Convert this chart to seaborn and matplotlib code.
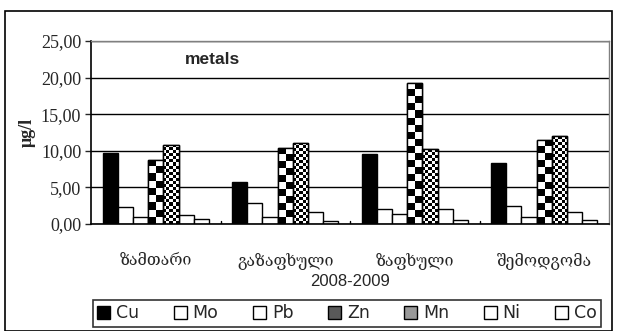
import matplotlib
matplotlib.use("Agg")
import matplotlib.pyplot as plt
import seaborn as sns
import numpy as np
import pandas as pd
from matplotlib.patches import Rectangle

seasons = ["ზამთარი", "გაზაფხული", "ზაფხული", "შემოდგომა"]
metals = ["Cu", "Mo", "Pb", "Zn", "Mn", "Ni", "Co"]

cu = [9.7, 5.7, 9.5, 8.4]
mo = [2.3, 2.9, 2.1, 2.4]
pb = [1.0, 0.9, 1.3, 1.0]
zn = [8.8, 10.4, 19.3, 11.5]
mn = [10.8, 11.1, 10.2, 12.0]
ni = [1.2, 1.7, 2.0, 1.7]
co = [0.7, 0.4, 0.6, 0.6]

yticks = [0, 5, 10, 15, 20, 25]

values = {"Cu": cu, "Mo": mo, "Pb": pb, "Zn": zn, "Mn": mn, "Ni": ni, "Co": co}
rows = []
for m in metals:
    for s, v in zip(seasons, values[m]):
        rows.append({"season": s, "metal": m, "value": v})
df = pd.DataFrame(rows)

sns.set_style("white")
plt.rcParams["font.family"] = ["Liberation Sans", "DejaVu Sans"]

fig = plt.figure(figsize=(6.17, 3.31), dpi=100)
ax = fig.add_axes([91 / 617, 1 - 224 / 331, (609 - 91) / 617, (224 - 41) / 331])

face = {"Cu": "black", "Mo": "white", "Pb": "white", "Zn": "0.35",
        "Mn": "0.6", "Ni": "white", "Co": "white"}

sns.barplot(
    data=df,
    x="season",
    y="value",
    hue="metal",
    hue_order=metals,
    order=seasons,
    palette=face,
    edgecolor="black",
    linewidth=1.0,
    width=0.82,
    legend=True,
    ax=ax
)

ax.set_ylim(0, 25)
ax.set_xlim(-0.5, 3.5)
ax.set_yticks(yticks)
ax.set_yticklabels([f"{t:.2f}".replace(".", ",") for t in yticks],
                   family="Liberation Serif", fontsize=13)
ax.set_xticklabels(seasons, family="DejaVu Serif", fontsize=11.5)
ax.tick_params(axis="x", pad=20, length=0)
ax.tick_params(axis="y", length=4, left=True, width=1, pad=3)
ax.yaxis.grid(True, color="black", linewidth=1.0)
ax.set_axisbelow(True)

for side in ["left", "bottom"]:
    ax.spines[side].set_color("black")
    ax.spines[side].set_linewidth(1.2)
for side in ["top", "right"]:
    ax.spines[side].set_color("0.5")
    ax.spines[side].set_linewidth(1.0)

# small separators between categories on the x axis
for x in [0.5, 1.5, 2.5]:
    ax.plot([x, x], [0, 0.4], color="black", linewidth=1)

ax.set_xlabel("2008-2009", fontsize=12, labelpad=4)
ax.set_ylabel("μg/l", family="Liberation Serif", fontweight="bold",
              fontsize=13, labelpad=4)
ax.text(0.235, 0.9, "metals", transform=ax.transAxes, ha="center",
        va="center", fontsize=12.5, fontweight="bold")

# checker textures for Zn (coarse) and Mn (fine)
fig.canvas.draw()
renderer = fig.canvas.get_renderer()
for cont, m in zip(ax.containers, metals):
    if m not in ("Zn", "Mn"):
        continue
    cell = 7.0 if m == "Zn" else 3.0
    for bar in cont:
        bb = bar.get_window_extent(renderer)
        nx = max(1, int(round(bb.width / cell)))
        ny = max(1, int(round(bb.height / cell)))
        grid = (np.add.outer(np.arange(ny), np.arange(nx)) % 2).astype(float)
        x0, y0 = bar.get_x(), bar.get_y()
        img = ax.imshow(grid, cmap="gray", vmin=0, vmax=1,
                        extent=[x0, x0 + bar.get_width(), y0, y0 + bar.get_height()],
                        origin="lower", interpolation="nearest", aspect="auto",
                        zorder=bar.get_zorder() + 0.1)
        img.set_clip_path(bar)
        edge = Rectangle((x0, y0), bar.get_width(), bar.get_height(),
                         fill=False, edgecolor="black", linewidth=1.0,
                         zorder=bar.get_zorder() + 0.2)
        ax.add_patch(edge)

ax.set_xlim(-0.5, 3.5)
ax.set_ylim(0, 25)

handles, labels = ax.get_legend_handles_labels()
ax.get_legend().remove()
leg = fig.legend(handles, labels, ncol=7, mode="expand",
                 bbox_to_anchor=(84 / 617, 1 - 329 / 331, (610 - 84) / 617, 31 / 331),
                 loc="center", frameon=True, fancybox=False, fontsize=12.5,
                 handlelength=0.75, handleheight=0.75, handletextpad=0.35,
                 borderpad=0.25)
leg.get_frame().set_edgecolor("black")
leg.get_frame().set_linewidth(1.2)
for t in leg.get_texts():
    t.set_family("Liberation Sans Narrow")

fig.patches.append(Rectangle((5 / 617, 0), (612 - 5) / 617, 1 - 11 / 331,
                             transform=fig.transFigure, fill=False,
                             edgecolor="black", linewidth=1.2))

fig.savefig("out.png", dpi=100)
